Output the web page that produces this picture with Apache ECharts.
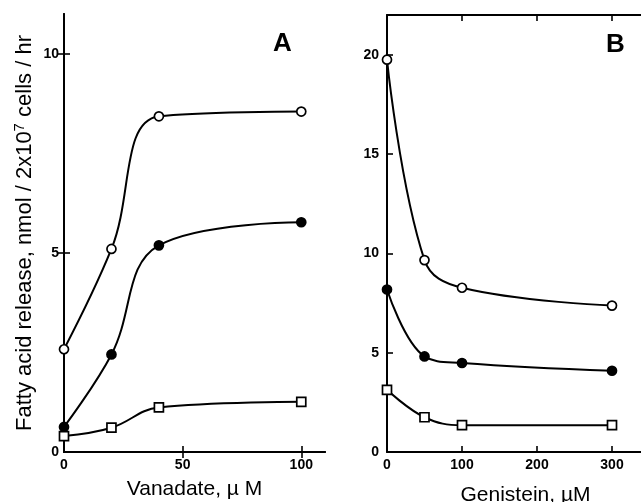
<!DOCTYPE html>
<html><head><meta charset="utf-8">
<script src="https://cdn.jsdelivr.net/npm/echarts@6/dist/echarts.min.js"></script>
<style>html,body{margin:0;padding:0;background:#fff}#c{width:641px;height:502px}</style>
</head><body><div id="c"></div>
<script>
// Panel A: Vanadate (µM)
var vanadateX = [0, 20, 40, 100];
var aOpenCircle = [2.58, 5.1, 8.43, 8.55];
var aFilledCircle = [0.63, 2.45, 5.19, 5.77];
var aSquare = [0.4, 0.61, 1.12, 1.26];
// Panel B: Genistein (µM)
var genisteinX = [0, 50, 100, 300];
var bOpenCircle = [19.75, 9.66, 8.27, 7.37];
var bFilledCircle = [8.18, 4.81, 4.48, 4.09];
var bSquare = [3.13, 1.75, 1.35, 1.35];

var aTicksX = [0, 50, 100];
var aTicksY = [0, 5, 10];
var bTicksX = [0, 100, 200, 300];
var bTicksY = [0, 5, 10, 15, 20];

function pairs(xs, ys){ return xs.map(function(x,i){return [x, ys[i]];}); }

var FONT = 'Liberation Sans, Arial, Helvetica, sans-serif';
var axisLine = {show:true, lineStyle:{color:'#000', width:2}};
function tickStyle(vals){ return {show:true, inside:true, length:6, customValues:vals, lineStyle:{color:'#000', width:1.6}}; }
function lbl(margin, vals){ return {color:'#000', fontFamily:FONT, fontWeight:'bold', fontSize:14, margin:margin, customValues:vals}; }

function series(name, xi, yi, data, symbol, fill){
  return {
    type:'line', name:name, xAxisIndex:xi, yAxisIndex:yi, data:data,
    smooth:0.4, symbol:symbol, symbolSize:9,
    lineStyle:{color:'#000', width:2},
    itemStyle:{color:fill, borderColor:'#000', borderWidth:1.7},
    z:3
  };
}

var chart = echarts.init(document.getElementById('c'), null, {renderer:'canvas'});
chart.setOption({
  animation:false,
  backgroundColor:'#fff',
  grid:[
    {left:64, top:14, width:261, height:438, containLabel:false, outerBoundsMode:'none'},
    {left:387, top:15, width:255, height:437, containLabel:false, outerBoundsMode:'none'}
  ],
  xAxis:[
    {gridIndex:0, type:'value', min:0, max:110, position:'bottom',
     axisLine:axisLine, splitLine:{show:false},
     axisLabel:lbl(6, aTicksX), axisTick:tickStyle(aTicksX),
     name:'Vanadate, \u00b5 M', nameLocation:'middle', nameGap:27,
     nameTextStyle:{color:'#000', fontFamily:FONT, fontSize:21}},
    {gridIndex:0, type:'value', min:0, max:110, position:'top',
     axisLine:axisLine, axisLabel:{show:false}, splitLine:{show:false},
     axisTick:tickStyle([50,100])},
    {gridIndex:1, type:'value', min:0, max:340, position:'bottom',
     axisLine:axisLine, splitLine:{show:false},
     axisLabel:lbl(6, bTicksX), axisTick:tickStyle(bTicksX),
     name:'Genistein, \u00b5M', nameLocation:'middle', nameGap:33,
     nameTextStyle:{color:'#000', fontFamily:FONT, fontSize:21, padding:[0,0,0,22]}},
    {gridIndex:1, type:'value', min:0, max:340, position:'top',
     axisLine:axisLine, axisLabel:{show:false}, splitLine:{show:false},
     axisTick:tickStyle([100,200,300])}
  ],
  yAxis:[
    {gridIndex:0, type:'value', min:0, max:11, position:'left',
     axisLine:axisLine, splitLine:{show:false},
     axisLabel:lbl(5, aTicksY), axisTick:tickStyle(aTicksY),
     name:'{a|Fatty acid release, nmol / 2x10}{s|7}{a| cells / hr}',
     nameLocation:'middle', nameRotate:90, nameGap:26,
     nameTextStyle:{color:'#000', fontFamily:FONT,
       rich:{a:{fontSize:22, fontFamily:FONT, color:'#000'}, s:{fontSize:15, fontFamily:FONT, color:'#000', verticalAlign:'bottom', padding:[0,0,11,0]}}}},
    {gridIndex:0, type:'value', min:0, max:11, position:'right',
     axisLine:axisLine, axisLabel:{show:false}, splitLine:{show:false},
     axisTick:tickStyle([5,10])},
    {gridIndex:1, type:'value', min:0, max:22, position:'left',
     axisLine:axisLine, splitLine:{show:false},
     axisLabel:lbl(8, bTicksY), axisTick:tickStyle(bTicksY)}
  ],
  graphic:[
    {type:'text', left:273, top:31, style:{text:'A', fill:'#000', font:'bold 26px '+FONT}},
    {type:'text', left:606, top:32, style:{text:'B', fill:'#000', font:'bold 26px '+FONT}}
  ],
  series:[
    series('A open', 0, 0, pairs(vanadateX, aOpenCircle), 'circle', '#fff'),
    series('A filled', 0, 0, pairs(vanadateX, aFilledCircle), 'circle', '#000'),
    series('A square', 0, 0, pairs(vanadateX, aSquare), 'rect', '#fff'),
    series('B open', 2, 2, pairs(genisteinX, bOpenCircle), 'circle', '#fff'),
    series('B filled', 2, 2, pairs(genisteinX, bFilledCircle), 'circle', '#000'),
    series('B square', 2, 2, pairs(genisteinX, bSquare), 'rect', '#fff')
  ]
});
</script></body></html>
